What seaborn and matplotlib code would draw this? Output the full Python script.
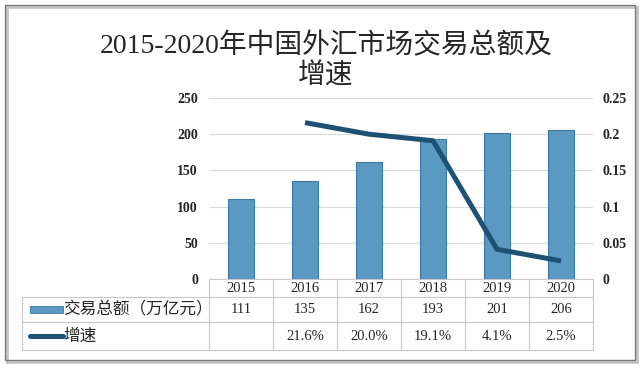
import numpy as np
import pandas as pd
import matplotlib
matplotlib.use('Agg')
import matplotlib.pyplot as plt
import seaborn as sns
from matplotlib.patches import Rectangle
from matplotlib.lines import Line2D

#%% data
years = [2015, 2016, 2017, 2018, 2019, 2020]
amount = [111, 135, 162, 193, 201, 206]
growth_years = [2016, 2017, 2018, 2019, 2020]
growth = [0.216, 0.200, 0.191, 0.041, 0.025]
bar_label = '交易总额（万亿元）'
line_label = '增速'
title = '2015-2020年中国外汇市场交易总额及\n增速'
left_ticks = [0, 50, 100, 150, 200, 250]
right_ticks = [0, 0.05, 0.1, 0.15, 0.2, 0.25]
right_ticklabels = ['0', '0.05', '0.1', '0.15', '0.2', '0.25']

bar_color = '#5a9ac2'
bar_edge = '#3d789f'
line_color = '#1d5275'
num_font = ['Liberation Serif', 'Noto Sans CJK SC']
cjk_font = ['Noto Sans CJK SC', 'DejaVu Sans']

sns.set_style('white')
plt.rcParams['font.family'] = num_font

W, H = 640, 369
fig = plt.figure(figsize=(W / 100, H / 100), dpi=100)

# pixel layout of the plot area
px_l, px_r, px_t, px_b = 209, 593, 98, 279
ax = fig.add_axes([px_l / W, 1 - px_b / H, (px_r - px_l) / W, (px_b - px_t) / H])

def ax_xy(px, py):
    return (px - px_l) / (px_r - px_l), (px_b - py) / (px_b - px_t)

df = pd.DataFrame({'year': years, 'amount': amount})
gdf = pd.DataFrame({'year': growth_years, 'growth': growth})

sns.barplot(data=df, x='year', y='amount', native_scale=True, width=0.42,
            color=bar_color, saturation=1, edgecolor=bar_edge, linewidth=0.8, ax=ax, zorder=2)
ax.set_xlim(years[0] - 0.5, years[-1] + 0.5)
ax.set_ylim(0, 250)
ax.set_yticks(left_ticks)
ax.set_yticklabels([str(t) for t in left_ticks], fontsize=10, fontweight='bold')
ax.yaxis.grid(True, color='#d9d9d9', lw=0.8, zorder=0)
ax.set_axisbelow(True)
ax.tick_params(axis='y', length=0, pad=8)
ax.tick_params(axis='x', length=0, labelbottom=False)
ax.set(xlabel=None, ylabel=None)
for s in ax.spines.values():
    s.set_visible(False)

ax2 = ax.twinx()
sns.lineplot(data=gdf, x='year', y='growth', color=line_color, linewidth=3.6,
             ax=ax2, solid_capstyle='butt', solid_joinstyle='round')
ax2.set_ylim(0, 0.25)
ax2.set_yticks(right_ticks)
ax2.set_yticklabels(right_ticklabels, fontsize=10, fontweight='bold')
ax2.tick_params(axis='y', length=0, pad=7)
ax2.set(xlabel=None, ylabel=None)
for s in ax2.spines.values():
    s.set_visible(False)

# data table below the plot
row_vals = dict(zip(growth_years, growth))
cell_text = [[''] + [str(y) for y in years],
             [''] + [str(a) for a in amount],
             [''] + [f'{row_vals[y] * 100:.1f}%' if y in row_vals else '' for y in years]]
tx0, ty0 = ax_xy(22, 350)
tx1, ty1 = ax_xy(593, 279)
tbl = ax.table(cellText=cell_text, cellLoc='center',
               colWidths=[187] + [64] * len(years),
               bbox=[tx0, ty0, tx1 - tx0, ty1 - ty0])
tbl.auto_set_font_size(False)
row_h = [18, 25, 28]
for (r, c), cell in tbl.get_celld().items():
    cell.set_height(row_h[r])
    cell.set_edgecolor('#c8c8c8')
    cell.set_linewidth(0.8)
    cell.get_text().set_fontsize(10.5)
    cell.get_text().set_fontfamily(num_font)
    if r == 0 and c == 0:
        cell.visible_edges = 'open'

# legend swatches + row labels
sx0, sy0 = ax_xy(30, 313)
sx1, sy1 = ax_xy(63, 306)
ax.add_patch(Rectangle((sx0, sy0), sx1 - sx0, sy1 - sy0, transform=ax.transAxes,
                       facecolor=bar_color, edgecolor=bar_edge, lw=0.6, clip_on=False))
lx0, ly = ax_xy(30, 336)
lx1, _ = ax_xy(63, 336)
ax.add_line(Line2D([lx0, lx1], [ly, ly], transform=ax.transAxes, color=line_color,
                   lw=3.6, clip_on=False))
tx, ty = ax_xy(63, 310)
ax.text(tx, ty, bar_label, transform=ax.transAxes, ha='left', va='center',
        fontsize=12, family=cjk_font)
ax.text(tx, ly, line_label, transform=ax.transAxes, ha='left', va='center',
        fontsize=12, family=cjk_font)

# title
fig.text(326 / W, 1 - 61 / H, title, ha='center', va='center', fontsize=20,
         linespacing=1.2, family=num_font)

# outer frame with light shadow
fig.add_artist(Rectangle((7 / W, 7 / H), 630 / W, 355 / H, transform=fig.transFigure,
                         fill=False, edgecolor='#c4c4c4', lw=2))
fig.add_artist(Rectangle((5 / W, 9 / H), 630 / W, 355 / H, transform=fig.transFigure,
                         fill=False, edgecolor='#7a7a7a', lw=1))

fig.savefig('out.png', dpi=100)
